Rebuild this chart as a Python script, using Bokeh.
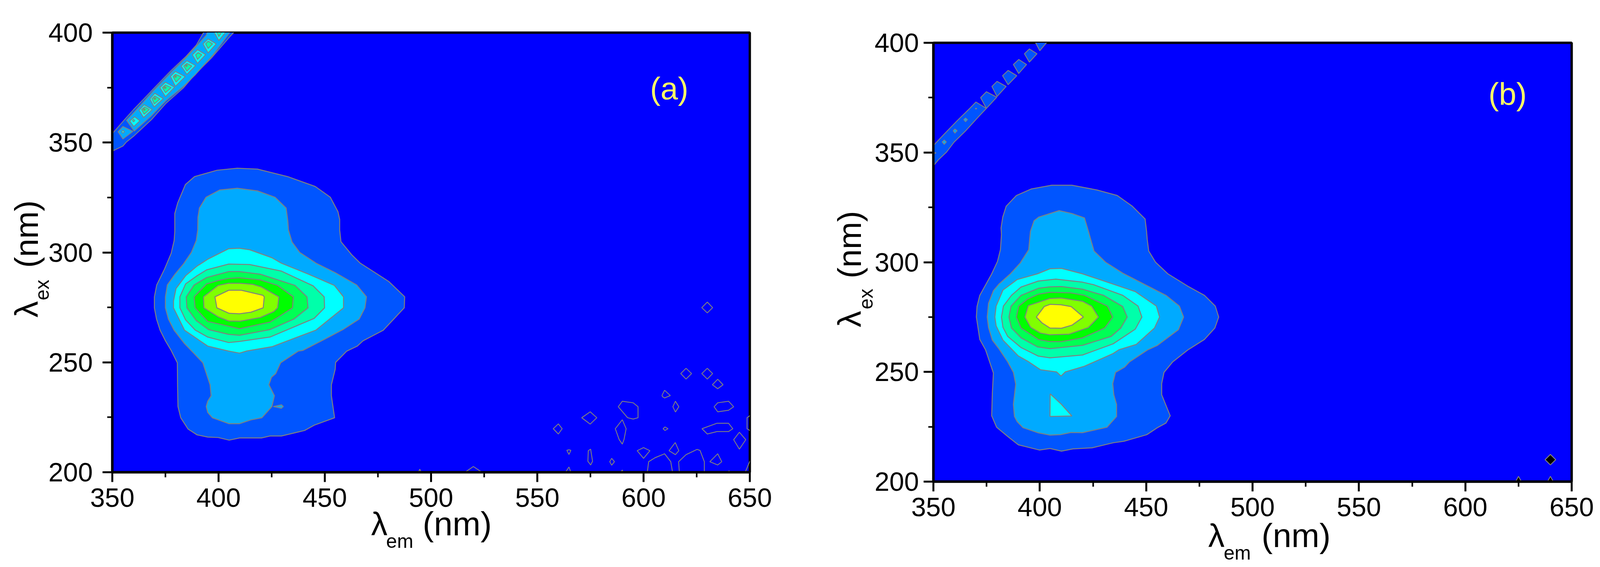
from math import pi
from bokeh.embed import file_html
from bokeh.layouts import column, row
from bokeh.models import FixedTicker, Label
from bokeh.plotting import figure
from bokeh.resources import INLINE

# ---------- axes ----------
X_TICKS = [350, 400, 450, 500, 550, 600, 650]
X_MINOR = [375, 425, 475, 525, 575, 625]
Y_TICKS = [200, 250, 300, 350, 400]
Y_MINOR = [225, 275, 325, 375]

# ---------- level colours ----------
C_L0 = "#0000ff"
C_L1 = "#0055ff"
C_L2 = "#00aaff"
C_L3 = "#00ffff"
C_L4 = "#00ffaa"
C_L5 = "#00ff55"
C_L6 = "#00ff00"
C_L7 = "#80ff00"
C_L8 = "#ffff00"

# ---------- panel (a): contour outlines as (lambda_em, lambda_ex) ----------
A_L1 = [(379.4,309.5),(379.4,317.7),(380.8,322.6),(384.4,330.9),(388.7,334.5),(399.3,337.4),(408.8,338.3),(418.3,337.9),(432.5,334.5),(445.5,330),(452.6,325.1),(456.2,318.5),(457,315),(457,310.2),(457.6,304.9),(462.6,299),(466.7,295.1),(474.8,290.1),(480.2,286.7),(487.6,279.8),(487.4,274.8),(477.5,264.6),(468,259.8),(465.3,257.4),(460.3,255.1),(455.1,250),(454.9,246.9),(453.1,239.8),(453.1,234.8),(454.6,224.8),(445,221.4),(440.5,219),(429.6,216.5),(424.2,216.5),(420.2,215.6),(409.9,215.6),(405,214.6),(399.8,215.8),(394.9,216),(389.9,217),(385.6,219.7),(382.2,224.8),(380.9,229.9),(380.7,239.8),(380.6,249.8),(377.7,255.4),(375,259.8),(372.5,264.6),(370.8,269.7),(369.8,274.8),(369.8,279.8),(370.9,285.2),(374.6,292.5),(377.7,299.6),(379.1,305.4)]
A_L2 = [(390.3,316),(391,320.2),(394.1,325.1),(400.5,328.4),(408.8,329.2),(418.3,328),(426.6,325.1),(431.8,320.2),(432.6,314.3),(432.9,310.2),(434.6,304.7),(438.2,300),(445.9,295.1),(454.9,290.8),(465,285.2),(469.6,279.8),(468.9,274.8),(466.2,269.7),(458.5,264.9),(449.9,260.5),(439.6,255.4),(437.5,255.1),(429.2,249.8),(426.9,244.9),(424.9,243.2),(423.7,239.8),(426.3,234.8),(425.1,229.9),(420.4,224.8),(415.2,223.8),(409.9,222.1),(404.8,222.1),(397.1,224.8),(394.9,227.2),(394.2,229.9),(394.9,232.3),(396.5,234.8),(396,239.8),(392.6,249.8),(388.1,254.4),(384,258.5),(379.1,264.6),(376.4,269.7),(375,274.8),(375,279.8),(375.9,285.2),(379.5,290.1),(383.6,294.9),(387.2,300),(389.5,305.4),(390.2,310.2)]
A_L3 = [(378.8,277.9),(380,283.6),(384.5,289.4),(389.9,293.8),(394.9,296.9),(404.8,301.7),(409.8,301.9),(414.7,301.2),(425.1,297.6),(429.6,295.1),(442.3,290.1),(454.5,285),(458.8,279.8),(458.8,274.8),(445.9,264.7),(425.1,257.1),(413.4,255.2),(409.9,254.2),(404.8,255.1),(394.9,257.4),(384,264.6),(378.8,274.8)]
A_L4 = [(381.8,279.8),(384.5,285.7),(389.9,289.4),(394.4,292.1),(404.8,294.7),(414.7,294.5),(429.6,291.5),(444.5,284.8),(449.7,279.8),(449.9,274.8),(445,270),(424.2,261.5),(409.9,259.5),(404.8,259),(394.9,261.5),(389,264.7),(384.5,269.3),(381.8,274.8)]
A_L5 = [(384.8,279.8),(388.5,285.2),(394.4,288.6),(404.8,291.3),(409.8,291.3),(419.7,290.1),(436,285),(441.6,279.8),(442.1,274.8),(435.5,269.7),(424.2,264.9),(409.9,262.3),(404.8,262.7),(395.3,264.9),(389.5,269),(385.1,274.8)]
A_L6 = [(388.5,279.8),(394.4,285.7),(399.8,287.2),(404.8,288.2),(409.8,288.5),(419.7,287.5),(427.8,285),(435.2,279.8),(434.8,274.8),(427.8,270.4),(424.2,268.3),(409.9,265.3),(394.9,268.6),(389,274.8)]
A_L7 = [(392.9,279.8),(399.8,285),(404.8,286),(409.8,286),(416.1,285.5),(420.2,284.3),(428.4,279.8),(427.8,274.8),(426,273.1),(419.7,270.4),(410.2,268.7),(404.8,268.8),(399.8,270.7),(393.1,274.8)]
A_L8 = [(398.3,279.8),(404.8,282.8),(410.7,282.8),(420.9,280.5),(421.5,279.8),(421,274.8),(415.2,272.8),(409.8,272.1),(405,272.3),(399.2,274.8)]
A_DROP = [(425.8,229.9),(429.6,230.7),(430.5,229.9),(429.6,229.1)]

# Rayleigh scatter band of (a)
A_BAND_L1 = [(349,345.7),(350.5,346.3),(355,348.4),(356.7,350.3),(360.3,353.1),(368.5,360.5),(375.3,367.9),(383.6,375),(388.9,381),(396.6,388.4),(404.8,397.6),(408,401),(393.5,401),(389.5,394.3),(384.8,389.3),(377.7,382.8),(369.4,374.5),(364.7,369.7),(360,365),(355.3,359.9),(350.5,354.6),(349,353.5)]
A_BAND_L2_1 = [(352.7,354.9),(355,357.3),(359.7,355.1),(355,351.6)]
A_BAND_L2_2 = [(356.7,360.1),(360.3,363.8),(364.7,368.5),(369.4,373.6),(378.3,382.5),(384.8,388.7),(394.2,398.8),(395,401),(406,401),(397.7,390.2),(389.2,381),(383.6,375.6),(375.3,369.1),(368.2,362),(360.3,355.2)]
A_BAND_L3 = [
    [(358.2,359.8),(360.5,361.7),(363,359.9),(360.1,357.3)],
    [(362.6,364.7),(365,367.2),(368.8,365),(364.7,361.4)],
    [(367.7,369.8),(370,372.4),(374,370),(369.7,366.2)],
    [(372.4,375),(375,377.4),(379.3,375.2),(375,370.9)],
    [(377.4,380.1),(379.7,382.3),(384.3,380),(379.7,375.6)],
    [(382.4,384.8),(385.1,387.2),(389.2,385),(385.1,381)],
    [(387.7,389.9),(390.1,392.2),(393.9,390),(390.1,386)],
    [(392.7,394.9),(395.1,397.1),(398.9,394.9),(395.1,390.8)],
    [(397.5,401),(400.1,396.4),(404,401)],
]
A_BAND_L4 = [
    [(363.8,365),(365.3,366.2),(367.4,365),(365,362.9)],
    [(368.7,369.9),(370,371.2),(372.4,369.8),(369.8,367.6)],
    [(373.6,375),(375,376.2),(377.7,375),(375,372.7)],
    [(378.6,380),(379.7,381),(382.4,379.9),(380,377.5)],
    [(383.6,384.8),(385.1,386),(387.4,384.8),(385.1,382.5)],
    [(389.2,389.9),(390.4,390.9),(392.1,389.9),(390.1,387.8)],
    [(393.9,394.9),(395.1,396.1),(397.2,394.9),(395.1,392.8)],
    [(399,401),(400.1,398.2),(402,401)],
]
A_BAND_DOTS_L2 = [[(354.4,354.9),(355,355.6),(355.7,354.9),(355,354.2)]]
A_BAND_DOTS_L4 = [
    [(359.5,360),(360,360.6),(360.6,360),(360,359.4)],
]
A_BAND_DOTS_L5 = [
    [(364.5,365),(365,365.5),(365.6,365),(365,364.5)],
    [(369.5,370),(370,370.5),(370.6,370),(370,369.5)],
    [(374.2,375),(374.8,375.5),(375.4,375),(374.8,374.5)],
    [(379.2,380),(379.7,380.5),(380.3,380),(379.7,379.5)],
    [(384.3,385),(384.8,385.5),(385.4,385),(384.8,384.5)],
]

# isolated noise contours of (a), outline only
A_NOISE = [
    [(627.4,274.9),(630,277.4),(632.5,274.9),(630,272.5)],
    [(617.5,244.9),(620,247.3),(622.6,244.9),(620,242.4)],
    [(627.4,244.9),(630,247.3),(632.5,244.9),(630,242.4)],
    [(632.4,239.8),(634.9,242.3),(637.4,239.8),(634.9,238)],
    [(608.7,235),(609.9,237.3),(612.6,234.9),(609.9,233.8),(608.9,234.4)],
    [(613.8,229.8),(615,232.3),(616.6,229.8),(615,227.4)],
    [(633.2,229.8),(634.9,231.6),(640,232.3),(642.4,229.8),(640,228.2),(634.9,227.5)],
    [(588.1,229.8),(590,232.3),(595.1,231.6),(597.4,229.8),(597.4,224.8),(595.1,224.2),(592.5,224.8)],
    [(570.9,224.8),(574.9,227.5),(578,224.8),(574.9,221.9)],
    [(557.5,219.8),(559.9,222),(561.7,219.8),(559.9,217.4)],
    [(586.7,219.8),(590,223.9),(591.8,219.8),(590.8,214.9),(590,212.8),(588.5,214.9)],
    [(609.2,219.8),(610.1,220.6),(611.5,219.8),(610.1,219)],
    [(627.5,219.8),(634.6,222.3),(640,222.3),(642,219.8),(640,218.5),(634.6,218.5),(630,217.4)],
    [(652,225.4),(650,225.7),(648.7,224.8),(648.7,219.8),(650,219),(652,219.2)],
    [(642.4,214.8),(645.1,218.2),(648.1,214.8),(645.1,210.5)],
    [(612,209.8),(614.9,213.5),(616.6,209.8),(615,208)],
    [(597,209.8),(600,211.2),(603,209.8),(600,206.3)],
    [(563.9,210),(564.9,210.2),(565.8,210),(564.9,208.1)],
    [(574,209.8),(575.1,210.5),(576,205),(575.1,203.3),(573.8,205)],
    [(584.1,204.8),(585,206.3),(586.3,204.8),(585,203.2)],
    [(631.2,204.8),(634.9,208.4),(636.8,204.8),(634.9,203.3)],
    [(601.5,198),(602.4,204.8),(605.4,206.6),(609.9,208.4),(612.8,204.8),(614,198)],
    [(617,198),(616.5,204.8),(620,208),(625.2,210.4),(626.6,209.9),(628.6,204.8),(628.6,198)],
    [(647,198),(650,205),(652,205),(652,198)],
    [(562,198),(564.9,202.4),(566.5,198)],
    [(587.5,198),(590,201),(591,198)],
    [(639,198),(640.2,200.7),(641.5,198)],
    [(493.2,198),(494.7,201.4),(496.2,198)],
    [(513,198),(519.9,202.6),(527,198)],
]

# ---------- panel (b) ----------
B_L1 = [(381.8,315.6),(382.6,320.6),(384.2,325.5),(389,330.4),(396.1,333.4),(405.6,335.1),(415.1,335.1),(426.9,332.9),(436.4,330.4),(443.5,325.5),(449.5,319.7),(450.2,314),(450.5,310.5),(451.2,305.1),(454.4,300),(460.2,294.7),(469.7,289),(477.4,284.9),(482.5,280),(484.1,275),(482.3,270),(477.4,264.8),(469.7,260.1),(462.5,254.6),(458.4,249.8),(457.3,244.7),(457.3,239.6),(461.3,230),(459.3,226.7),(455.3,224.6),(450.3,221.4),(439.5,218.4),(434.5,217.7),(424.6,215.4),(415.6,214.9),(410.2,213.9),(404.8,215.1),(399.8,214.4),(389.9,216.8),(384.9,220.6),(379.7,224.8),(377.4,230),(377.7,240.3),(378.2,249.5),(374.5,260.1),(371.8,264.8),(370.2,275),(370.5,279.8),(371.8,284.9),(377.3,294.5),(380.1,300.3),(381.5,305.7),(382,312.6)]
B_L2 = [(395.6,314),(397.3,318.9),(399.6,320.6),(409.1,323.5),(415.1,322.2),(421,320.2),(422.9,314),(423.7,311.2),(425.5,305.1),(430.9,300),(439,295),(449,290),(459.3,284.9),(465.6,280),(467.6,275),(465.2,269.3),(455.3,262.1),(450.8,260.1),(442.2,254.6),(439.9,252.2),(435.6,249.8),(434.3,244.7),(434.8,239.6),(436.1,235.2),(436.1,229.7),(431.6,224.8),(420.1,222.3),(414.7,222.4),(409.7,221.4),(404.8,221.2),(399.4,222.2),(392.1,224.6),(389.4,227.3),(388.1,229.7),(387.6,235.2),(388.7,244.4),(387.6,249.8),(384.9,254.6),(380.9,260.4),(377.7,264.5),(375.9,270.3),(375.3,275),(375.9,281.2),(378.2,287),(380.9,290.1),(386.3,294.8),(390.8,299.6),(394.8,305.7)]
B_L3 = [(378.9,275),(379.5,280),(382.7,287.3),(389.4,292.1),(398.9,294.7),(404.8,297),(410.2,297.2),(420.1,294.7),(434.5,290),(444.9,286.6),(454.8,280),(456.3,275),(453.9,270),(445.3,262.5),(437.2,260.1),(434.5,258.4),(421,252.6),(412,250),(410,248.1),(407.9,250),(400.3,251),(394.8,254.6),(389.9,257.3),(382.7,264.5),(379.5,271)]
B_TRI = [(404.9,240),(410.2,235.2),(415.1,229.9),(404.8,229.7)]
B_L4 = [(382,275),(382.9,280),(386.7,284.9),(391.2,288.7),(399.3,291.4),(407.5,292.3),(420.1,290.9),(425.5,289.7),(439,284.9),(446.2,280),(448,275),(444.9,269.5),(434.5,262.8),(420.1,257.7),(404.8,256.4),(399.3,257.2),(391.2,261.1),(384.9,266.2),(382.7,270.3)]
B_L5 = [(385.5,275),(386.5,280),(391.2,284.9),(399.3,288.1),(404.8,288.8),(410.2,288.9),(420.1,287.7),(430,284.9),(439,279.8),(441.1,275),(438.1,270),(433.6,266.2),(420.1,262.1),(404.8,260.6),(398.9,261.4),(391.2,265.5),(386.7,270)]
B_L6 = [(389,275),(390.1,280),(394.4,283.3),(399.3,285.4),(404.8,286.3),(414.7,286),(421,284.9),(431.8,280),(434.3,275),(430.5,270),(420.1,265.5),(410.2,263.8),(404.8,263.8),(399.3,264.8),(391.2,270)]
B_L7 = [(393,275),(394.6,280.2),(404.8,283.5),(410,283.7),(420.1,282.2),(424.4,280),(427.6,275),(422.8,270.2),(413.8,267.2),(404.8,266.9),(400.3,267.7),(395.7,270.3)]
B_L8 = [(398.4,275),(402.1,279.8),(404.8,280.8),(410,280.6),(414.7,279.8),(420.5,275),(415.1,271.3),(410.2,269.9),(404.8,270),(401.1,272.3)]

B_BAND_L1 = [
    [(349,352.4),(350.6,353.8),(354.7,358),(361.2,364.5),(367.1,370.1),(370,373),(374.9,370.1),(371.5,366.6),(365,359.7),(359.7,354.7),(356.2,350.2),(352.4,346.7),(350.6,344.6),(349,343)],
    [(372.2,375),(374.9,377.7),(379.8,375.2),(374.9,370.1)],
    [(377.5,380.1),(379.9,382.4),(384.2,380.1),(379.9,375.5)],
    [(382.5,385),(385.1,387.4),(389.2,385),(385.1,380.9)],
    [(387.6,390.1),(390.1,392.4),(393.8,390.1),(390.1,386)],
    [(392.8,395),(395.1,397.2),(398.7,395),(395.1,391.2)],
    [(397.5,401),(400,396.4),(404,401)],
]
B_BAND_DOTS = [
    [(354.1,354.8),(355.1,355.7),(356.1,354.8),(355.1,353.7)],
    [(359.3,359.9),(360.1,360.7),(361.2,359.9),(360.1,358.8)],
    [(364.3,365),(365.1,365.7),(366,365),(365.1,364)],
    [(369.7,370),(370,370.2),(370.4,370),(370,369.8)],
    [(349,350.3),(351.3,349.8),(349,349.2)],
]
B_BLACK = [
    [(637.5,210),(640,212.4),(642.5,210),(640,207.6)],
    [(622.5,198),(625,202.4),(627.5,198)],
    [(637.5,198),(640,202.4),(642.5,198)],
]

GREY = "#808080"
FONT = "Liberation Sans"
SX = 4096 / 4255  # the page that gets photographed is at most 4096 wide
BASE = 0.32  # Bokeh's alphabetic anchor sits this far (in em) below the real baseline


def split(polys):
    return [[v[0] for v in q] for q in polys], [[v[1] for v in q] for q in polys]


def panel(frame_w, frame_h, left, right, top, bottom, standoff):
    p = figure(frame_width=frame_w, frame_height=frame_h,
               x_range=(350, 650), y_range=(200, 400),
               output_backend="svg", toolbar_location=None,
               min_border_left=left, min_border_right=right,
               min_border_top=top, min_border_bottom=bottom,
               background_fill_color=C_L0, border_fill_alpha=0)
    p.grid.visible = False
    p.outline_line_color = "black"
    p.outline_line_width = 6
    p.xaxis.ticker = FixedTicker(ticks=X_TICKS, minor_ticks=X_MINOR)
    p.yaxis.ticker = FixedTicker(ticks=Y_TICKS, minor_ticks=Y_MINOR)
    for ax in (p.xaxis[0], p.yaxis[0]):
        ax.axis_line_width = 6
        ax.major_tick_line_width = 5
        ax.minor_tick_line_width = 4
        ax.major_tick_out = 25
        ax.major_tick_in = 0
        ax.minor_tick_out = 13
        ax.minor_tick_in = 0
        ax.major_label_text_font = FONT
        ax.major_label_text_font_size = "68px"
        ax.major_label_text_color = "black"
    p.xaxis[0].major_label_standoff = 16
    p.yaxis[0].major_label_standoff = standoff
    return p


def strip(x0, x1, y0, y1, margin=(0, 0, 0, 0)):
    """Transparent text strip whose ranges are page pixels."""
    s = figure(width=x1 - x0, height=y1 - y0, x_range=(x0, x1), y_range=(y1, y0),
               x_axis_type=None, y_axis_type=None, output_backend="svg",
               toolbar_location=None, min_border=0, margin=margin,
               outline_line_color=None, background_fill_alpha=0, border_fill_alpha=0)
    s.grid.visible = False
    return s


def fill(p, polys, color, lw=2.5):
    xs, ys = split(polys)
    p.patches(xs, ys, fill_color=color, line_color=GREY, line_width=lw)


def outline(p, polys, lw=2.2):
    xs, ys = split(polys)
    p.patches(xs, ys, fill_alpha=0, line_color=GREY, line_width=lw)


def text(p, x, y, s, size, angle=0.0, color="black"):
    p.add_layout(Label(x=x, y=y, text=s, text_font=FONT,
                       text_font_size=f"{size}px", text_color=color, angle=angle,
                       text_align="left", text_baseline="alphabetic"))


def htext(p, px, py, s, size):
    text(p, px * SX, py - BASE * size, s, size)


def vtext(p, px, py, s, size):
    text(p, px * SX - BASE * size, py, s, size, pi / 2)


fig_a = panel(1632, 1125, 165, 152, 83, 130, 25)
fig_b = panel(1634, 1123, 152, 65, 109, 130, 12)

for poly, col in [(A_L1, C_L1), (A_L2, C_L2), (A_L3, C_L3), (A_L4, C_L4),
                  (A_L5, C_L5), (A_L6, C_L6), (A_L7, C_L7), (A_L8, C_L8)]:
    fill(fig_a, [poly], col)
fill(fig_a, [A_DROP], C_L2, 2.2)
fill(fig_a, [A_BAND_L1], C_L1, 2.2)
fill(fig_a, [A_BAND_L2_1, A_BAND_L2_2], C_L2, 2.2)
fill(fig_a, A_BAND_L3, C_L3, 2.2)
fill(fig_a, A_BAND_L4, C_L4, 2.2)
fill(fig_a, A_BAND_DOTS_L2, C_L3, 2)
fill(fig_a, A_BAND_DOTS_L4, C_L4, 2)
fill(fig_a, A_BAND_DOTS_L5, C_L5, 2)
outline(fig_a, A_NOISE)

for poly, col in [(B_L1, C_L1), (B_L2, C_L2), (B_L3, C_L3), (B_L4, C_L4),
                  (B_L5, C_L5), (B_L6, C_L6), (B_L7, C_L7), (B_L8, C_L8)]:
    fill(fig_b, [poly], col)
fill(fig_b, [B_TRI], C_L3)
fill(fig_b, B_BAND_L1, C_L1, 2.2)
fill(fig_b, B_BAND_DOTS, C_L2, 2)
fill(fig_b, B_BLACK, "black", 2.2)

# panel letters
text(fig_a, 603.1, 374.6, "(a)", 80, 0.0, "#ffff66")
text(fig_b, 610.9, 376.6, "(b)", 80, 0.0, "#ffff66")

# title strips (page-pixel ranges); they overlap the transparent figure borders
ya = strip(0, 145, 0, 1450)
vtext(ya, 98, 812, "λ", 84)
vtext(ya, 128, 768, "ex", 50)
vtext(ya, 98, 685, "(nm)", 84)

xa = strip(121, 2070, 1270, 1450, margin=(-68, 0, 0, 0))
htext(xa, 948, 1367, "λ", 84)
htext(xa, 996, 1400, "em", 50)
htext(xa, 1112, 1367, "(nm)", 86)

yb = strip(2070, 2255, 0, 1450)
vtext(yb, 2286, 837, "λ", 84)
vtext(yb, 2318, 791, "ex", 50)
vtext(yb, 2286, 712, "(nm)", 84)

xb = strip(2235, 4086, 1295, 1450, margin=(-67, 0, 0, 0))
htext(xb, 3150, 1397, "λ", 84)
htext(xb, 3197, 1430, "em", 50)
htext(xb, 3311, 1397, "(nm)", 86)

page = row(ya,
           column(fig_a, xa, spacing=0, margin=(0, 0, 0, -24)),
           yb,
           column(fig_b, xb, spacing=0, margin=(0, 0, 0, -20)),
           spacing=0)
open("out.html", "w").write(file_html(page, INLINE))
